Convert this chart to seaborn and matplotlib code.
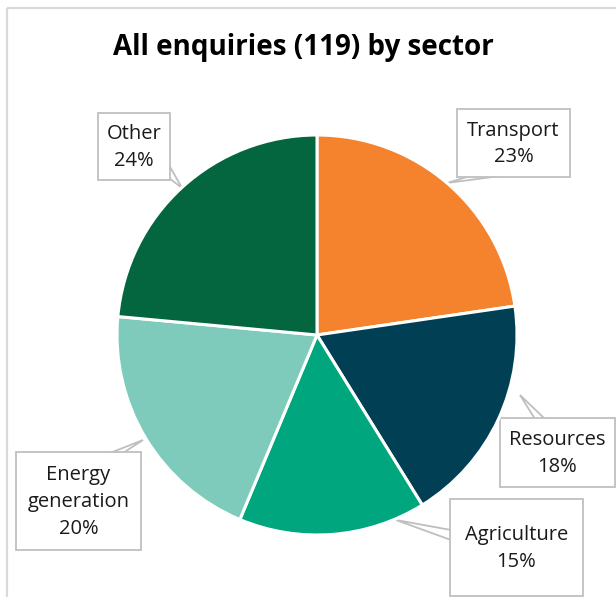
import matplotlib
matplotlib.use("Agg")
import matplotlib.pyplot as plt
import seaborn as sns
from matplotlib.patches import Rectangle

sns.set_theme(style="white")
plt.rcParams['font.family'] = ['Open Sans', 'DejaVu Sans']

# Data
sectors = ["Transport", "Resources", "Agriculture", "Energy\ngeneration", "Other"]
counts = [27, 22, 18, 24, 28]          # total 119
colors = ["#F5822D", "#003F54", "#00A67E", "#7ECBBC", "#03663E"]
title = "All enquiries (119) by sector"

W, H = 616, 597
fig = plt.figure(figsize=(W / 100, H / 100), dpi=100)
ax = fig.add_axes([0, 0, 1, 1])
ax.set_xlim(0, W)
ax.set_ylim(H, 0)
ax.axis("off")

# outer chart frame (extends beyond the image at right/bottom)
ax.add_patch(Rectangle((7, 8), 700, 700, fill=False, edgecolor="#D9D9D9", lw=1.6))

# pie in its own axes
cx, cy, r = 317, 335, 200
pax = fig.add_axes([(cx - r) / W, 1 - (cy + r) / H, 2 * r / W, 2 * r / H])
pax.pie(counts, colors=colors, startangle=90, counterclock=False,
        wedgeprops=dict(edgecolor="white", linewidth=2.2))
pax.set_aspect("equal")
pax.set_xlim(-1.0, 1.0)
pax.set_ylim(-1.0, 1.0)
pax.axis("off")

ax.text(303, 47, title, ha="center", va="center", fontsize=20,
        fontweight="bold", color="#000000")

total = sum(counts)
# label boxes: (x0, y0, x1, y1) in pixels, leader wedge points
layout = [
    ((457, 109, 570, 177), [(500, 176), (447, 183), (470, 176)]),   # Transport
    ((500, 418, 615, 487), [(535, 419), (520, 395), (545, 419)]),   # Resources
    ((450, 499, 583, 596), [(451, 530), (396, 520), (451, 540)]),   # Agriculture
    ((16, 452, 141, 550), [(110, 453), (143, 440), (123, 453)]),    # Energy
    ((98, 113, 170, 180), [(169, 165), (182, 188), (169, 178)]),    # Other
]
for name, c, (box, leader) in zip(sectors, counts, layout):
    x0, y0, x1, y1 = box
    xs = [p[0] for p in leader]
    ys = [p[1] for p in leader]
    ax.fill(xs, ys, facecolor="white", edgecolor="#BFBFBF", lw=1.3, zorder=3)
    ax.add_patch(Rectangle((x0, y0), x1 - x0, y1 - y0, facecolor="white",
                           edgecolor="#BFBFBF", lw=1.3, zorder=4))
    pct = round(100 * c / total)
    ax.text((x0 + x1) / 2, (y0 + y1) / 2 + 1, f"{name}\n{pct}%", ha="center",
            va="center", fontsize=14.5, color="#1A1A1A", linespacing=1.45, zorder=5)

fig.savefig("out.png", dpi=100)
